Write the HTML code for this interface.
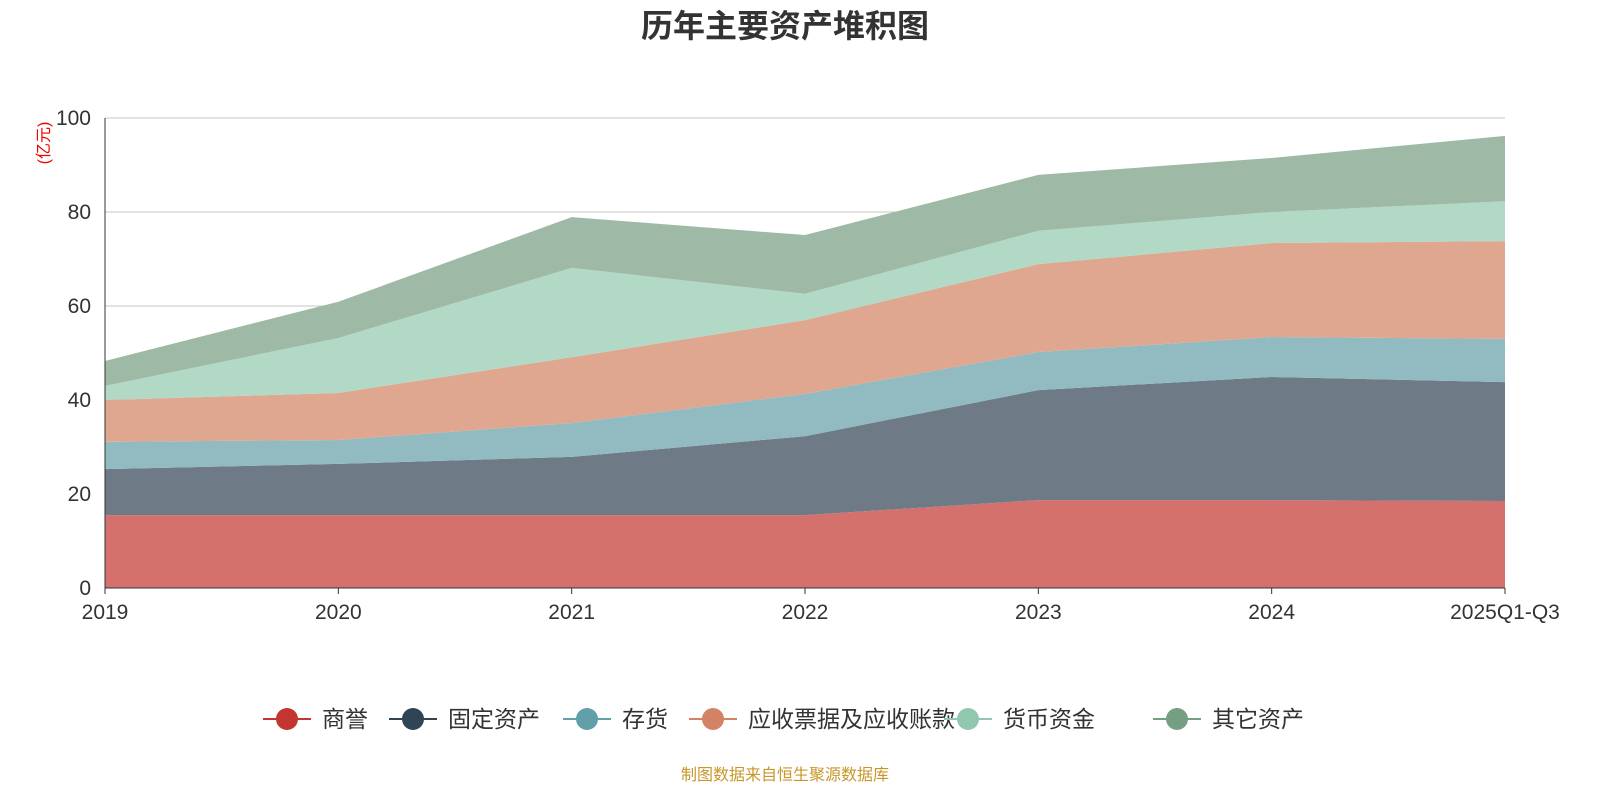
<!DOCTYPE html>
<html><head><meta charset="utf-8"><style>
body{margin:0;background:#fff;font-family:"Liberation Sans","Noto Sans CJK SC",sans-serif;}
svg text{font-family:"Liberation Sans","Noto Sans CJK SC",sans-serif;}
</style></head><body>
<svg id="c" width="1600" height="800">
<text x="785" y="37" text-anchor="middle" font-size="32" font-weight="bold" fill="#333">历年主要资产堆积图</text>
<text transform="translate(49,143) rotate(-90)" text-anchor="middle" font-size="16" fill="#e00">(亿元)</text>
<g id="grid"></g><g id="areas"></g><g id="axes"></g><g id="legend"></g>
<text x="785" y="780" text-anchor="middle" font-size="16" fill="#c8962a">制图数据来自恒生聚源数据库</text>
</svg>
<script>
const categories=["2019","2020","2021","2022","2023","2024","2025Q1-Q3"];
const seriesNames=["商誉","固定资产","存货","应收票据及应收账款","货币资金","其它资产"];
const goodwill=[15.5,15.5,15.5,15.5,18.7,18.7,18.5];
const fixedAssets=[9.8,10.9,12.4,16.8,23.4,26.2,25.3];
const inventory=[5.8,5.1,7.2,9.0,8.1,8.5,9.2];
const receivables=[8.9,10.0,14.0,15.7,18.7,20.0,20.8];
const cash=[3.0,11.7,19.0,5.6,7.1,6.6,8.5];
const otherAssets=[5.3,7.7,10.8,12.5,11.9,11.5,13.9];
const yTicks=[0,20,40,60,80,100];
const series=[goodwill,fixedAssets,inventory,receivables,cash,otherAssets];
const fills=["#d4716d","#6e7b86","#91bbc1","#dfa78f","#b2d8c6","#9eb9a6"];
const legendColors=["#c23531","#2f4554","#61a0a8","#d48265","#91c7ae","#749f83"];
const NS="http://www.w3.org/2000/svg";
const X0=105,X1=1505,Y0=588,Y1=118;
const x=i=>X0+(X1-X0)*i/(categories.length-1);
const y=v=>Y0-(Y0-Y1)*v/100;
function mk(t,a,p){const e=document.createElementNS(NS,t);for(const k in a)e.setAttribute(k,a[k]);p.appendChild(e);return e;}
const grid=document.getElementById('grid'),areas=document.getElementById('areas'),axes=document.getElementById('axes'),legend=document.getElementById('legend');
yTicks.forEach(t=>{
 if(t>0){const l=mk('line',{x1:X0,x2:X1,y1:y(t),y2:y(t),stroke:'#c4c4c4','stroke-width':1},grid);
 
 }
 const tx=mk('text',{x:X0-14,y:y(t)+7,'text-anchor':'end','font-size':21,fill:'#333'},axes);tx.textContent=t;
 
 
});
let base=categories.map(()=>0);
series.forEach((s,k)=>{
 const top=base.map((b,i)=>b+s[i]);
 let d='M'+top.map((v,i)=>x(i)+','+y(v)).join('L');
 for(let i=categories.length-1;i>=0;i--)d+='L'+x(i)+','+y(base[i]);
 const p=mk('path',{d:d+'Z',fill:fills[k]},areas);
 
 
 base=top;
});
mk('line',{x1:X0,x2:X0,y1:Y1,y2:Y0,stroke:'#333'},axes);
mk('line',{x1:X0,x2:X1,y1:Y0,y2:Y0,stroke:'#333'},axes);
categories.forEach((c,i)=>{
 mk('line',{x1:x(i),x2:x(i),y1:Y0,y2:Y0+6,stroke:'#333'},axes);
 const t=mk('text',{x:x(i),y:Y0+31,'text-anchor':'middle','font-size':21,fill:'#333'},axes);t.textContent=c;
 
 
});
const lx=[287,413,587,713,968,1177];
seriesNames.forEach((n,k)=>{
 const g=mk('g',{},legend);
 
 
 mk('line',{x1:lx[k]-24,x2:lx[k]+24,y1:719,y2:719,stroke:legendColors[k],'stroke-width':2},g);
 mk('circle',{cx:lx[k],cy:719,r:11,fill:legendColors[k]},g);
 const t=mk('text',{x:lx[k]+35,y:727,'font-size':23,fill:'#333'},g);t.textContent=n;
});
</script>
</body></html>
